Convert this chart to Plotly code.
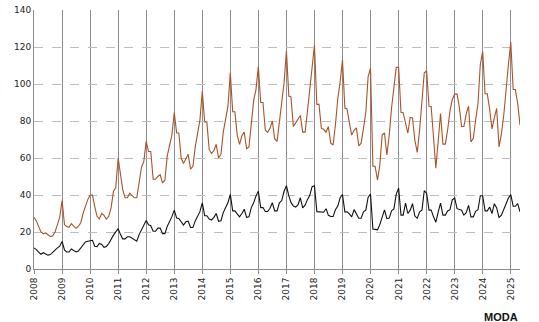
import pandas as pd
import plotly.graph_objects as go

# Monthly data, Jan 2008 .. May 2025
start_month = "2008-01-01"

brown_values = [
    28, 26, 23, 20, 19, 19.5, 18.5, 17.5, 18, 20, 24, 28,            # 2008
    37, 24, 23, 22.5, 24.5, 23, 22, 23, 25, 30, 34, 37.5,            # 2009
    40, 40, 34, 28.5, 27, 30, 29, 27, 28.5, 33, 42, 44,              # 2010
    60, 51, 43, 38.5, 38.5, 41, 40, 38.5, 38.5, 47, 55, 58,          # 2011
    69, 63.5, 63.5, 48.5, 48.5, 50, 51, 46.5, 48, 61, 67, 72.5,      # 2012
    84.5, 73.5, 73.5, 60, 57, 59.5, 62, 54, 55.5, 66, 73, 80.5,      # 2013
    96, 79.5, 79.5, 64.5, 62.5, 64, 67.4, 60, 62, 74, 81, 88,        # 2014
    106, 85, 85, 72.4, 67.4, 72, 74, 65, 66, 78, 91, 97,             # 2015
    109.4, 90, 90, 75, 73.8, 76, 80, 70.3, 69, 79.4, 89, 100.6,      # 2016
    118, 93.5, 93, 77, 79, 81, 83, 74, 74, 85, 96, 108,              # 2017
    121, 89, 89, 76, 75.5, 74, 77, 68, 67, 78, 92, 101,              # 2018
    113, 87, 86.5, 79, 72.4, 75, 76.3, 66.6, 68, 76, 84.7, 104,      # 2019
    108.5, 55.5, 55.5, 48, 56, 72.5, 73.5, 61.6, 72.4, 87, 100, 109, # 2020
    109, 84.7, 84.5, 78.5, 73.5, 82, 81.7, 69.5, 63, 75, 90.5, 106,  # 2021
    107, 88, 87.8, 68.7, 54.5, 69.5, 84, 67.5, 67.5, 75, 85.5, 91.6, # 2022
    94.5, 94.5, 88, 77, 77, 84, 88, 68.7, 70.6, 80.5, 89.5, 110.5,   # 2023
    117.6, 94.7, 94.7, 86.3, 75.7, 81.8, 86.8, 66, 73, 83, 99.5, 110.5,  # 2024
    122.5, 97.1, 97, 89.5, 77.8,                                      # 2025
]

black_values = [
    11.4, 10.5, 9.1, 8, 8.8, 8, 7.5, 7.8, 8.8, 10.2, 11.4, 12.3,     # 2008
    14.9, 10.3, 9.2, 9.2, 10.8, 9.8, 9.2, 9.7, 11.3, 13.3, 14.6, 15, # 2009
    15.2, 15.5, 12.3, 12.1, 13.8, 13.3, 11.7, 12.2, 13.8, 16.3, 18.3, 20.1,  # 2010
    21.8, 18.6, 16.3, 16.3, 17.4, 17.4, 16.5, 15.6, 15, 18.6, 21.2, 23,      # 2011
    26.2, 23.9, 23.4, 20.4, 20.4, 22.1, 22.1, 19.1, 19.1, 23, 25.6, 28.3,    # 2012
    31.8, 27.5, 27.3, 25.4, 23.8, 25.5, 25.8, 22.4, 22.4, 26, 28.8, 31,      # 2013
    35.8, 28.8, 28.8, 27, 26.5, 27.9, 30, 25.8, 26.1, 30.5, 33.2, 35.8,      # 2014
    40.3, 31.4, 31.4, 29.7, 28.2, 30, 32.3, 27.9, 28.2, 33.2, 35.8, 39.4,    # 2015
    42, 33.2, 33.2, 31.1, 31.1, 32.8, 35.8, 31.4, 31.4, 35.8, 37, 42,        # 2016
    45, 39.5, 36, 34, 33.5, 34.8, 38.5, 33, 34.5, 37.5, 39.8, 44.5,          # 2017
    45, 31, 31, 30.7, 30.7, 32.6, 29, 28.4, 28.4, 32, 34, 38.5,              # 2018
    40.3, 30.9, 30.9, 29.8, 28.2, 32.1, 30, 27.4, 27.4, 30.9, 31.8, 38.8,    # 2019
    40.5, 21.6, 21.4, 21.2, 24, 28, 32, 27.2, 27.5, 31.5, 32.5, 40.5,        # 2020
    43.7, 29.1, 29.1, 35.6, 30, 31.8, 35.3, 28.6, 27.4, 30.9, 31.8, 42.3,    # 2021
    41, 31.8, 31.8, 28.2, 25.3, 30.9, 35.6, 29.1, 29.1, 31.4, 32.1, 37.4,    # 2022
    38.4, 32.6, 32.4, 31.8, 29.1, 30.4, 34.4, 28.2, 28.2, 31.2, 32.1, 39.6,  # 2023
    39.6, 31.4, 31.4, 33.5, 30, 35.3, 33, 27.9, 29.1, 32.6, 35.3, 38.4,      # 2024
    40.2, 33.9, 33.9, 35.3, 30.9,                                             # 2025
]

year_ticks = list(range(2008, 2026))
y_ticks = [0, 20, 40, 60, 80, 100, 120, 140]

months = pd.date_range(start_month, periods=len(brown_values), freq="MS")

fig = go.Figure()
fig.add_trace(go.Scatter(x=months, y=brown_values, mode="lines",
                         line=dict(color="#a9532a", width=1.1), hoverinfo="skip"))
fig.add_trace(go.Scatter(x=months, y=black_values, mode="lines",
                         line=dict(color="#111111", width=1.1), hoverinfo="skip"))

tick_dates = [f"{y}-01-01" for y in year_ticks]
fig.update_layout(
    width=539, height=322,
    margin=dict(l=34, r=19, t=5, b=53),
    paper_bgcolor="white", plot_bgcolor="white",
    showlegend=False,
    font=dict(family="DejaVu Sans", size=9, color="#222222"),
    xaxis=dict(
        type="date",
        range=[months[0], months[-1]],
        tickvals=tick_dates,
        ticktext=[str(y) for y in year_ticks],
        tickangle=-90,
        showgrid=True, gridcolor="#8c8c8c", gridwidth=1,
        showline=True, linecolor="#8c8c8c", linewidth=1,
        ticks="outside", ticklen=4, tickcolor="#8c8c8c",
        zeroline=False,
    ),
    yaxis=dict(
        range=[0, 140],
        tickvals=y_ticks,
        showgrid=True, gridcolor="#bdbdbd", gridwidth=1, griddash="dash",
        showline=True, linecolor="#8c8c8c", linewidth=1,
        ticks="", zeroline=False,
    ),
)

fig.add_annotation(text="<b>MODA</b>", xref="paper", yref="paper",
                   x=1.0, y=-0.155, xanchor="right", yanchor="top",
                   showarrow=False,
                   font=dict(family="Liberation Sans", size=11, color="#111111"))

fig.write_html("out.html")
